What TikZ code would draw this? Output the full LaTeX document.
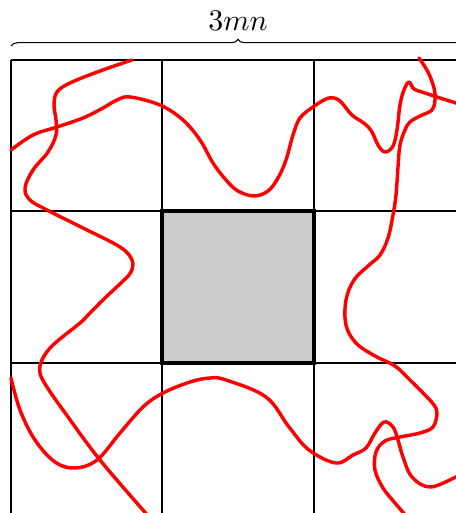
\documentclass[tikz,border=0pt]{standalone}
\usetikzlibrary{decorations.pathreplacing}
\begin{document}
\begin{tikzpicture}[x=0.33333pt,y=-0.33333pt,
  gridline/.style={line width=0.65pt,black},
  centrebox/.style={line width=1.3pt,black},
  walk/.style={line width=1.15pt,red,line cap=round,line join=round},
  bracestyle/.style={decorate,decoration={brace,amplitude=2.2pt},line width=0.35pt}]
\useasboundingbox (0,0) rectangle (456,513);
\clip (0,0) rectangle (456,513);
% label and brace
\node (lbl) at (238,21) {$3mn$};
\coordinate (bl) at (11,46);
\coordinate (br) at (465,46);
\draw[bracestyle] (bl) -- (br);
% grid
\fill[black!20] (162.3,211.3) rectangle (313.6,362.6);
\foreach \p in {11,162.3,313.6,464.9}{
  \draw[gridline] (\p,60) -- (\p,514);
  \draw[gridline] (11,{\p+49}) -- (465,{\p+49});
}
% curves
\draw[walk] plot[smooth,tension=0.6] coordinates {(132,60) (100,71) (70,83) (57,92) (54,105) (56,120) (56,135) (48,152) (33,170) (25,188) (30,200) (47,210) (83,228) (120,247) (132,260) (131,272) (123,281) (105,298) (90,313) (80,323) (53,345) (42,360) (40,373) (47,387) (63,410) (100,460) (150,518)};
\draw[walk] plot[smooth,tension=0.6] coordinates {(11,150) (33,135) (57,127) (83,118) (103,108) (117,100) (130,97) (160,105) (183,120) (200,140) (213,163) (226,180) (238,191) (254,196) (268,191) (278,178) (286,160) (293,135) (300,118) (313,107) (326,99) (334,98) (341,102) (352,115) (365,124) (372,132) (378,145) (385,152) (393,146) (397,130) (400,105) (404,90) (409,82) (414,89) (425,93) (440,98) (456,103) (470,108)};
\draw[walk] plot[smooth,tension=0.6] coordinates {(419,58) (428,72) (434,88) (435,100) (432,110) (420,116) (410,122) (405,130) (400,145) (398,167) (396,195) (393,215) (388,238) (380,255) (368,266) (354,280) (346,300) (346,325) (356,343) (375,356) (395,366) (410,380) (425,395) (434,405) (437,413) (433,427) (420,433) (400,437) (385,441) (376,452) (375,470) (383,488) (395,503) (407,517)};
\draw[walk] plot[smooth,tension=0.6] coordinates {(11,378) (20,410) (35,440) (55,462) (75,468) (97,460) (120,433) (143,407) (163,393) (190,382) (210,378) (226,380) (266,397) (289,427) (309,450) (336,463) (353,455) (366,448) (375,433) (384,422) (393,427) (398,440) (403,457) (412,477) (430,487) (456,477) (470,470)};
% centre square border
\draw[centrebox] (162.3,211.3) rectangle (313.6,362.6);
\end{tikzpicture}
\end{document}
